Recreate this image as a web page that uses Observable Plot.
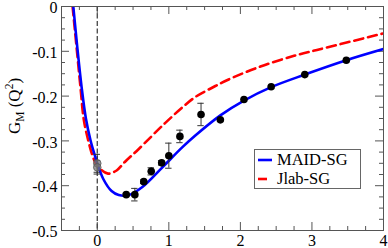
<!DOCTYPE html>
<html>
<head>
<meta charset="utf-8">
<script src="https://cdn.jsdelivr.net/npm/d3@7"></script>
<script src="https://cdn.jsdelivr.net/npm/@observablehq/plot@0.6"></script>
<style>
  html, body { margin: 0; padding: 0; background: #fff; }
  #wrap { position: relative; width: 388px; height: 248px; }
  #legend {
    position: absolute; left: 254px; top: 149px; width: 105px; height: 38px;
    border: 1px solid #666; background: #fff;
    font-family: "Liberation Serif", "Times New Roman", serif; font-size: 16.5px; color: #000;
  }
  #legend .row { position: absolute; left: 0; width: 104px; height: 19px; line-height: 19px; white-space: nowrap; }
  #legend svg { position: absolute; left: 2px; top: 1px; }
  #legend span { position: absolute; display: block; left: 22px; top: 0; height: 19px; line-height: 19px; }
</style>
</head>
<body>
<div id="wrap"></div>
<script>
// ---- data ----
const maidQ2 = [-0.335, -0.28, -0.219, -0.159, -0.094, -0.033, 0, 0.084, 0.2, 0.30, 0.44, 0.63, 0.91, 1.19, 1.37, 1.72, 2.05, 2.43, 2.90, 3.48, 4.0];
const maidGM = [0, -0.09, -0.18, -0.25, -0.299, -0.333, -0.350, -0.385, -0.412, -0.421, -0.421, -0.403, -0.359, -0.314, -0.288, -0.243, -0.210, -0.180, -0.152, -0.120, -0.095];

const jlabQ2 = [-0.345, -0.29, -0.235, -0.187, -0.126, -0.066, 0, 0.15, 0.27, 0.385, 0.58, 0.91, 1.19, 1.37, 1.585, 1.82, 2.28, 2.75, 3.07, 4.0];
const jlabGM = [0, -0.09, -0.18, -0.254, -0.299, -0.333, -0.356, -0.373, -0.366, -0.347, -0.318, -0.266, -0.225, -0.202, -0.183, -0.164, -0.134, -0.110, -0.097, -0.060];

const dataQ2  = [0, 0, 0.405, 0.525, 0.65, 0.754, 0.90, 1.0, 1.155, 1.45, 1.72, 2.05, 2.43, 2.90, 3.48];
const dataGM  = [-0.350, -0.359, -0.420, -0.420, -0.391, -0.368, -0.349, -0.333, -0.290, -0.241, -0.253, -0.2075, -0.179, -0.152, -0.120];
const dataErr = [0.020, 0.015, 0.003, 0.014, 0.004, 0.008, 0.005, 0.028, 0.014, 0.025, 0, 0, 0, 0, 0];
const dataGray = [true, true, false, false, false, false, false, false, false, false, false, false, false, false, false];

const xLabelTicks = [0, 1, 2, 3, 4];
const xMajorTicks = [0, 1, 2, 3];
const xMinorTicks = [-0.25, 0.25, 0.5, 0.75, 1.25, 1.5, 1.75, 2.25, 2.5, 2.75, 3.25, 3.5, 3.75];
const yLabelTicks = [0, -0.1, -0.2, -0.3, -0.4, -0.5];
const yMajorTicks = [-0.1, -0.2, -0.3, -0.4];
const yMinorTicks = [-0.025, -0.05, -0.075, -0.125, -0.15, -0.175, -0.225, -0.25, -0.275, -0.325, -0.35, -0.375, -0.425, -0.45, -0.475];

const seriesNames = ["MAID-SG", "Jlab-SG"];
const seriesColors = ["#0000ff", "#ff0000"];

// ---- build tables ----
const maid = maidQ2.map((q, i) => ({q, g: maidGM[i]}));
const jlab = jlabQ2.map((q, i) => ({q, g: jlabGM[i]}));
const pts = dataQ2.map((q, i) => ({q, g: dataGM[i], e: dataErr[i], gray: dataGray[i]}));
const errPts = pts.filter(d => d.e > 0);

const X0 = -0.5, X1 = 4, Y0 = -0.5, Y1 = 0;
// tick lengths (px converted to data units)
const pxX = (X1 - X0) / (388 - 61 - 5);
const pxY = (Y1 - Y0) / (248 - 6 - 18);
const tickStroke = "#555";

const yTickRules = (vals, len) => [
  Plot.ruleY(vals, {y: d => d, x1: X0, x2: X0 + len * pxX, stroke: tickStroke, strokeWidth: 1}),
  Plot.ruleY(vals, {y: d => d, x1: X1, x2: X1 - len * pxX, stroke: tickStroke, strokeWidth: 1})
];
const xTickRules = (vals, len) => [
  Plot.ruleX(vals, {x: d => d, y1: Y0, y2: Y0 + len * pxY, stroke: tickStroke, strokeWidth: 1}),
  Plot.ruleX(vals, {x: d => d, y1: Y1, y2: Y1 - len * pxY, stroke: tickStroke, strokeWidth: 1})
];

const capHalf = 3.2 * pxX;

const chart = Plot.plot({
  width: 388,
  height: 248,
  marginTop: 6,
  marginRight: 5,
  marginBottom: 18,
  marginLeft: 61,
  style: {fontFamily: "'Liberation Serif', 'Times New Roman', serif", fontSize: "16px", background: "#fff", color: "#000", overflow: "visible"},
  x: {domain: [X0, X1]},
  y: {domain: [Y0, Y1]},
  marks: [
    ...yTickRules(yMajorTicks, 8),
    ...yTickRules(yMinorTicks, 4),
    ...xTickRules(xMajorTicks, 8),
    ...xTickRules(xMinorTicks, 4),
    Plot.ruleX([0], {stroke: "#444", strokeWidth: 1.3, strokeDasharray: "5,2.5"}),
    Plot.line(jlab, {x: "q", y: "g", stroke: seriesColors[1], strokeWidth: 2.6, strokeDasharray: "9,5", curve: "catmull-rom", clip: true}),
    Plot.line(maid, {x: "q", y: "g", stroke: seriesColors[0], strokeWidth: 2.6, curve: "catmull-rom", clip: true}),
    Plot.ruleX(errPts, {x: "q", y1: d => d.g - d.e, y2: d => d.g + d.e, stroke: "#333", strokeWidth: 1}),
    Plot.ruleY(errPts, {y: d => d.g - d.e, x1: d => d.q - capHalf, x2: d => d.q + capHalf, stroke: "#333", strokeWidth: 1}),
    Plot.ruleY(errPts, {y: d => d.g + d.e, x1: d => d.q - capHalf, x2: d => d.q + capHalf, stroke: "#333", strokeWidth: 1}),
    Plot.dot(pts.filter(d => d.gray), {x: "q", y: "g", r: 3.8, fill: "#777", fillOpacity: 0.75, stroke: "#555", strokeWidth: 0.8}),
    Plot.dot(pts.filter(d => !d.gray), {x: "q", y: "g", r: 3.8, fill: "#000"}),
    Plot.frame({stroke: "#555", strokeWidth: 1}),
    Plot.axisX({ticks: xLabelTicks, tickSize: 0, tickPadding: 4, tickFormat: d => String(d), label: null, fontSize: 16}),
    Plot.axisY({ticks: yLabelTicks, tickSize: 0, tickPadding: 4, dy: 1.5, tickFormat: d => d === 0 ? "0" : d.toFixed(1), label: null, fontSize: 16})
  ]
});

// y axis label with subscript / superscript
const svg = d3.select(chart);
const lab = svg.append("text")
  .attr("transform", "translate(20,106) rotate(-90)")
  .attr("text-anchor", "middle")
  .attr("font-family", "'Liberation Serif', 'Times New Roman', serif")
  .attr("font-size", 17)
  .attr("fill", "#000");
lab.append("tspan").text("G");
lab.append("tspan").attr("dy", 4).attr("font-size", 11.5).text("M");
lab.append("tspan").attr("dy", -4).text(" (Q");
lab.append("tspan").attr("dy", -7).attr("font-size", 11.5).text("2");
lab.append("tspan").attr("dy", 7).text(")");

const wrap = document.getElementById("wrap");
wrap.appendChild(chart);

// legend
const legend = document.createElement("div");
legend.id = "legend";
seriesNames.forEach((name, i) => {
  const row = document.createElement("div");
  row.className = "row";
  row.style.top = (i === 0 ? 0 : 19) + "px";
  const dash = i === 1 ? ' stroke-dasharray="9,5"' : '';
  row.innerHTML = `<svg width="16" height="18"><line x1="1" x2="15" y1="9" y2="9" stroke="${seriesColors[i]}" stroke-width="2.6"${dash}/></svg><span>${name}</span>`;
  legend.appendChild(row);
});
wrap.appendChild(legend);
</script>
</body>
</html>
